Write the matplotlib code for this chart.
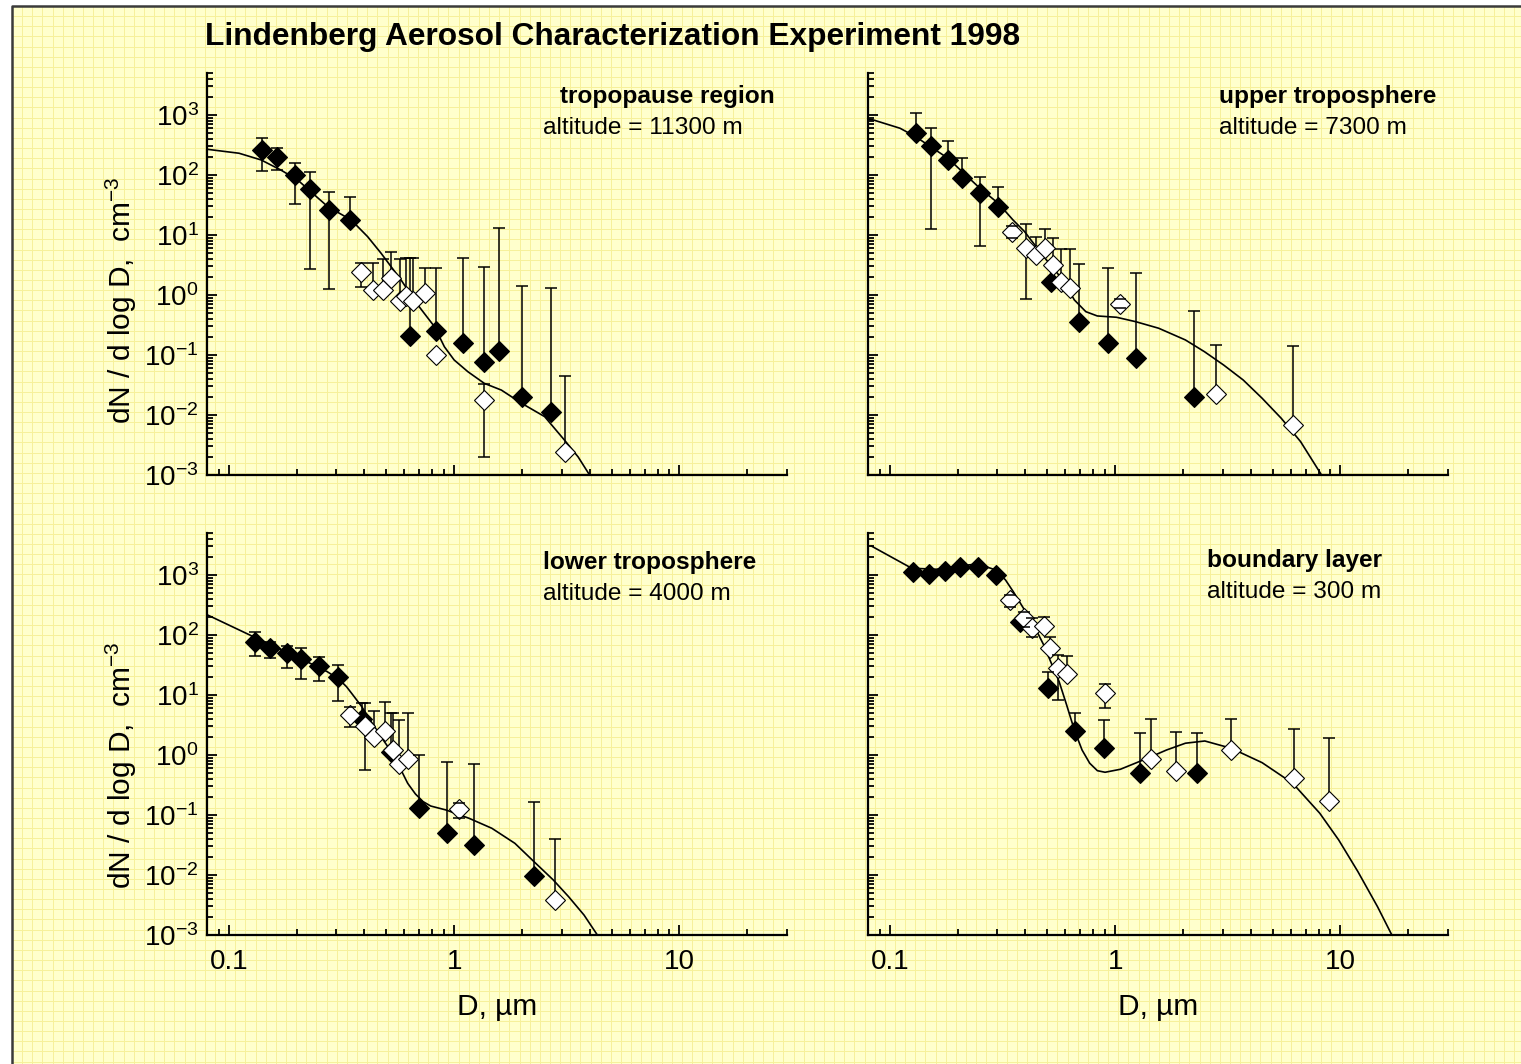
import numpy as np
import matplotlib.pyplot as plt
from matplotlib.patches import Rectangle
from matplotlib.ticker import LogLocator, NullFormatter

plt.rcParams['font.family'] = ['Liberation Sans', 'DejaVu Sans']
plt.rcParams['mathtext.fontset'] = 'custom'
plt.rcParams['mathtext.rm'] = 'Liberation Sans'
plt.rcParams['mathtext.default'] = 'regular'

nan = np.nan

# ---------------------------------------------------------------------
# tropopause region, altitude = 11300 m
# ---------------------------------------------------------------------
tp_fill_d = [0.140, 0.164, 0.197, 0.229, 0.277, 0.344, 0.640, 0.834, 1.10, 1.35, 1.58, 1.99, 2.70]
tp_fill_n = [261, 202, 100, 57.7, 26.4, 17.8, 0.207, 0.254, 0.156, 0.0755, 0.117, 0.0197, 0.0111]
tp_fill_hi = [407, 279, 160, 111, 52.7, 43.5, 4.09, 2.79, 4.09, 2.96, 13.2, 1.41, 1.32]
tp_fill_lo = [117, 121, 32.5, 2.74, 1.27, nan, nan, nan, nan, nan, nan, nan, nan]

tp_open_d = [0.384, 0.438, 0.485, 0.525, 0.574, 0.612, 0.655, 0.743, 0.834, 1.35, 3.09]
tp_open_n = [2.39, 1.21, 1.21, 1.90, 0.80, 0.96, 0.80, 1.07, 0.10, 0.0178, 0.00245]
tp_open_hi = [3.45, 3.45, 3.94, 5.15, 3.94, 4.1, 4.1, 2.79, nan, 0.033, 0.0447]
tp_open_lo = [1.37, nan, nan, nan, nan, nan, nan, nan, nan, 0.00197, nan]

tp_curve_d = [0.08, 0.111, 0.139, 0.170, 0.202, 0.231, 0.275, 0.349, 0.413, 0.474, 0.581,
              0.690, 0.818, 0.905, 1.0, 1.15, 1.36, 1.62, 1.99, 2.52, 3.09, 3.55, 3.99]
tp_curve_n = [268, 230, 178, 121, 82.5, 52.7, 29.6, 17.8, 9.37, 4.95, 1.78,
              0.68, 0.296, 0.137, 0.0825, 0.0527, 0.0337, 0.026, 0.0157, 0.0094, 0.0038,
              0.0020, 0.001]

# ---------------------------------------------------------------------
# upper troposphere, altitude = 7300 m
# ---------------------------------------------------------------------
ut_fill_d = [0.130, 0.152, 0.181, 0.209, 0.251, 0.303, 0.521, 0.691, 0.931, 1.233, 2.24]
ut_fill_n = [495, 304, 178, 88, 49.5, 29.7, 1.67, 0.359, 0.160, 0.0902, 0.0202]
ut_fill_hi = [1097, 615, 369, 194, 91.6, 63.8, nan, 3.29, 2.85, 2.35, 0.547]
ut_fill_lo = [nan, 12.4, nan, nan, 6.63, nan, nan, nan, nan, nan, nan]

ut_open_d = [0.350, 0.401, 0.445, 0.490, 0.528, 0.575, 0.629, 1.046, 2.81, 6.14]
ut_open_n = [11.4, 6.0, 4.64, 6.0, 3.16, 1.67, 1.29, 0.708, 0.0224, 0.0068]
ut_open_hi = [14.3, 15.3, 9.4, 12.4, 8.8, 5.78, 5.78, 0.848, 0.147, 0.143]
ut_open_lo = [9.0, 0.87, nan, nan, nan, nan, nan, 0.60, nan, nan]

ut_curve_d = [0.08, 0.0844, 0.111, 0.130, 0.181, 0.251, 0.303, 0.352, 0.396, 0.482, 0.586,
              0.659, 0.741, 0.833, 1.014, 1.233, 1.56, 2.05, 2.49, 3.03, 3.70, 4.49,
              5.46, 6.65, 8.24]
ut_curve_n = [850, 826, 600, 435, 190, 60, 33.7, 17.8, 11.4, 4.35, 1.78,
              0.826, 0.527, 0.447, 0.425, 0.359, 0.279, 0.178, 0.1135, 0.068, 0.0383, 0.019,
              0.0088, 0.0036, 0.001]

# ---------------------------------------------------------------------
# lower troposphere, altitude = 4000 m
# ---------------------------------------------------------------------
lt_fill_d = [0.130, 0.152, 0.181, 0.210, 0.250, 0.304, 0.389, 0.526, 0.695, 0.928, 1.23, 2.25]
lt_fill_n = [77.4, 60, 49.5, 39.4, 30.8, 20.2, 3.93, 1.14, 0.129, 0.0495, 0.0316, 0.0096]
lt_fill_hi = [111, 75.5, 65.6, 60, 43.5, 31.6, 7.27, 5.07, 1.0, 0.756, 0.708, 0.167]
lt_fill_lo = [45.2, 40.9, 28.5, 18.7, 17.3, 8.03, nan, nan, nan, nan, nan, nan]

lt_open_d = [0.346, 0.401, 0.443, 0.492, 0.536, 0.571, 0.622, 1.05, 2.81]
lt_open_n = [4.64, 3.04, 1.97, 2.54, 1.21, 0.70, 0.848, 0.127, 0.00383]
lt_open_hi = [6.38, 7.27, 5.47, 7.73, 5.07, 3.83, 4.95, 0.160, 0.0398]
lt_open_lo = [2.9, 0.562, nan, nan, nan, nan, nan, 0.090, nan]

lt_curve_d = [0.0805, 0.130, 0.200, 0.2735, 0.308, 0.333, 0.360, 0.389, 0.421, 0.473, 0.532,
              0.576, 0.622, 0.673, 0.728, 0.787, 0.921, 1.165, 1.47, 1.86, 2.26, 2.75,
              3.22, 3.77, 4.32]
lt_curve_n = [215, 91.6, 43.5, 24.4, 18.3, 13.7, 9.37, 6.38, 3.94, 2.02, 1.07,
              0.60, 0.337, 0.224, 0.167, 0.141, 0.121, 0.088, 0.060, 0.0337, 0.0167, 0.0083,
              0.00435, 0.00215, 0.001]

# ---------------------------------------------------------------------
# boundary layer, altitude = 300 m
# ---------------------------------------------------------------------
bl_fill_d = [0.127, 0.149, 0.1755, 0.204, 0.245, 0.295, 0.378, 0.501, 0.664, 0.895, 1.29, 2.31]
bl_fill_n = [1136, 1039, 1180, 1376, 1376, 1000, 167, 12.9, 2.54, 1.31, 0.507, 0.507]
bl_fill_hi = [nan, nan, nan, nan, nan, nan, nan, 24.4, 5.07, 3.83, 2.30, 2.30]
bl_fill_lo = [nan] * 12

bl_open_d = [0.341, 0.394, 0.429, 0.482, 0.515, 0.559, 0.609, 0.902, 1.44, 1.87, 3.28, 6.22, 8.91]
bl_open_n = [383, 190, 129, 141, 61.5, 27.9, 22.4, 10.7, 0.848, 0.547, 1.21, 0.419, 0.173]
bl_open_hi = [464, 245, 190, 202, 93.8, 46.4, 44.7, 15.3, 3.94, 2.42, 3.94, 2.71, 1.94]
bl_open_lo = [290, 137, 91.6, nan, nan, 8.25, nan, 6.0, nan, nan, nan, nan, nan]

bl_curve_d = [0.0827, 0.125, 0.161, 0.204, 0.245, 0.295, 0.326, 0.353, 0.396, 0.446, 0.482,
              0.521, 0.564, 0.609, 0.659, 0.713, 0.771, 0.834, 0.902, 1.055, 1.39, 1.69,
              2.05, 2.50, 3.28, 4.49, 6.14, 8.09, 9.82, 11.96, 14.6, 16.9]
bl_curve_n = [3040, 1294, 1245, 1413, 1525, 1212, 826, 527, 261, 121, 68,
              33.7, 16.7, 6.81, 2.61, 1.21, 0.728, 0.547, 0.515, 0.578, 0.881, 1.21,
              1.57, 1.71, 1.29, 0.744, 0.337, 0.107, 0.0383, 0.0113, 0.00296, 0.001]

y_ticks = [1e-3, 1e-2, 1e-1, 1e0, 1e1, 1e2, 1e3]
y_labels = ['$10^{-3}$', '$10^{-2}$', '$10^{-1}$', '$10^{0}$', '$10^{1}$', '$10^{2}$', '$10^{3}$']
x_ticks = [0.1, 1, 10]
x_labels = ['0.1', '1', '10']

W, H = 1521, 1064
fig = plt.figure(figsize=(W / 100, H / 100), dpi=100)
fig.patch.set_facecolor('white')

# graph-paper background with frame
bg = fig.add_axes([0, 0, 1, 1], zorder=-10)
bg.set_xlim(0, W)
bg.set_ylim(H, 0)
bg.axis('off')
bg.add_patch(Rectangle((12, 6), W, H, facecolor='#FFFFCC', edgecolor='none'))
gx = np.arange(12, W, 10.15)
gy = np.arange(6, H, 10.15)
bg.vlines(gx, 6, H, color='#F6F09A', lw=0.7)
bg.hlines(gy, 12, W, color='#F6F09A', lw=0.7)
bg.plot([12, 12, W + 5], [H + 5, 6, 6], color='#3A3A3A', lw=1.8)


def px_axes(x0, y0, x1, y1):
    return fig.add_axes([x0 / W, 1 - y1 / H, (x1 - x0) / W, (y1 - y0) / H])


def draw_bars(ax, d, n, hi, lo):
    d, n, hi, lo = (np.asarray(a, dtype=float) for a in (d, n, hi, lo))
    for ends in (hi, lo):
        m = ~np.isnan(ends)
        ax.vlines(d[m], n[m], ends[m], color='black', lw=1.1, zorder=2.5)
        ax.plot(d[m], ends[m], ls='none', marker='_', ms=9, mew=1.1,
                color='black', zorder=4)


def panel(ax, fill, opn, curve, name, alt, name_xy, alt_xy, bottom, left):
    ax.set_facecolor('none')
    ax.set_xscale('log')
    ax.set_yscale('log')
    ax.plot(curve[0], curve[1], color='black', lw=1.2, zorder=2)
    draw_bars(ax, *fill)
    draw_bars(ax, *opn)
    ax.plot(fill[0], fill[1], ls='none', marker='D', ms=10, mfc='black',
            mec='black', mew=0.8, zorder=3)
    ax.plot(opn[0], opn[1], ls='none', marker='D', ms=10, mfc='white',
            mec='black', mew=0.8, zorder=3)
    ax.set_xlim(0.08, 30)
    ax.set_ylim(1e-3, 5e3)

    ax.set_yticks(y_ticks, labels=y_labels if left else [])
    ax.yaxis.set_minor_locator(LogLocator(base=10, subs=np.arange(2, 10), numticks=30))
    ax.yaxis.set_minor_formatter(NullFormatter())
    ax.set_xticks(x_ticks, labels=x_labels if bottom else [])
    ax.xaxis.set_minor_locator(LogLocator(base=10, subs=np.arange(2, 10), numticks=30))
    ax.xaxis.set_minor_formatter(NullFormatter())

    for s in ('top', 'right'):
        ax.spines[s].set_visible(False)
    for s in ('left', 'bottom'):
        ax.spines[s].set_linewidth(1.6)
    ax.tick_params(which='both', direction='in', width=1.3, top=False, right=False,
                   labelsize=20)
    ax.tick_params(which='major', length=7.5)
    ax.tick_params(which='minor', length=4.5)
    ax.tick_params(axis='y', pad=6)
    ax.tick_params(axis='x', pad=10)

    if bottom:
        ax.set_xlabel('D, µm', fontsize=21.5)
        ax.xaxis.set_label_coords(0.5, -0.145)

    x0, y0 = name_xy
    fig.text(x0 / W, 1 - y0 / H, name, fontsize=17.6, fontweight='bold',
             ha='left', va='center')
    x0, y0 = alt_xy
    fig.text(x0 / W, 1 - y0 / H, alt, fontsize=17.6, ha='left', va='center')


ax_tp = px_axes(207, 73, 787, 475)
ax_ut = px_axes(868, 73, 1448, 475)
ax_lt = px_axes(207, 533, 787, 935)
ax_bl = px_axes(868, 533, 1448, 935)

panel(ax_tp, (tp_fill_d, tp_fill_n, tp_fill_hi, tp_fill_lo),
      (tp_open_d, tp_open_n, tp_open_hi, tp_open_lo), (tp_curve_d, tp_curve_n),
      'tropopause region', 'altitude = 11300 m', (560, 97), (543, 128), False, True)
panel(ax_ut, (ut_fill_d, ut_fill_n, ut_fill_hi, ut_fill_lo),
      (ut_open_d, ut_open_n, ut_open_hi, ut_open_lo), (ut_curve_d, ut_curve_n),
      'upper troposphere', 'altitude = 7300 m', (1219, 97), (1219, 128), False, False)
panel(ax_lt, (lt_fill_d, lt_fill_n, lt_fill_hi, lt_fill_lo),
      (lt_open_d, lt_open_n, lt_open_hi, lt_open_lo), (lt_curve_d, lt_curve_n),
      'lower troposphere', 'altitude = 4000 m', (543, 563), (543, 594), True, True)
panel(ax_bl, (bl_fill_d, bl_fill_n, bl_fill_hi, bl_fill_lo),
      (bl_open_d, bl_open_n, bl_open_hi, bl_open_lo), (bl_curve_d, bl_curve_n),
      'boundary layer', 'altitude = 300 m', (1207, 561), (1207, 592), True, False)

ylab = 'dN / d log D,  cm$^{-3}$'
fig.text(121 / W, 1 - 300 / H, ylab, rotation=90, fontsize=21.5, ha='center', va='center')
fig.text(121 / W, 1 - 765 / H, ylab, rotation=90, fontsize=21.5, ha='center', va='center')

fig.text(205 / W, 1 - 37 / H, 'Lindenberg Aerosol Characterization Experiment 1998',
         fontsize=22.8, fontweight='bold', ha='left', va='center')

fig.savefig('out.png', dpi=100)
